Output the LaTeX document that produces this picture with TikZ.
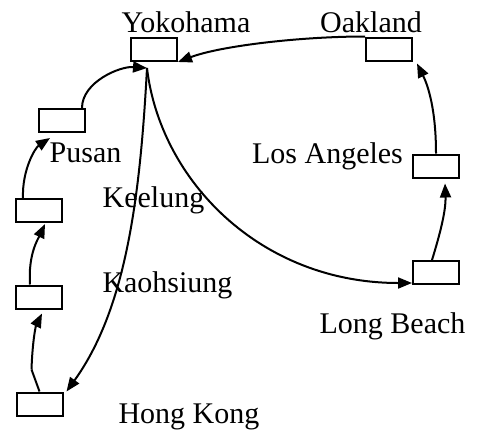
\documentclass[tikz,border=0pt]{standalone}
\usepackage{fontspec}
\setmainfont{Liberation Serif}
\usetikzlibrary{arrows.meta,calc}
\begin{document}
\begin{tikzpicture}[x=1pt,y=-1pt,
  port/.style={draw,line width=2pt,minimum width=46pt,minimum height=23pt,inner sep=0pt},
  lab/.style={anchor=base,inner sep=0pt,font=\fontsize{30}{36}\selectfont},
  route/.style={line width=2pt,-{Triangle[length=14pt,width=11pt]}},
  plain/.style={line width=2pt}]
\useasboundingbox (0,0) rectangle (478,431);
% boxes
\node[port] (yok) at (154,49.5) {};
\node[port] (oak) at (389,49) {};
\node[port] (la) at (436,166) {};
\node[port] (lb) at (436,272.5) {};
\node[port] (pus) at (62,120.5) {};
\node[port] (b3) at (39,210.5) {};
\node[port] (b4) at (39,297) {};
\node[port] (hk) at (39.5,404) {};
% labels
\node[lab] (tyok) at (186,32) {Yokohama};
\node[lab] (toak) at (371,32) {Oakland};
\node[lab] (tpus) at (85.5,162) {Pusan};
\node[lab] (tkee) at (153.5,207) {Keelung};
\node[lab] (tla) at (327.5,163) {Los Angeles};
\node[lab] (tkao) at (167.5,292) {Kaohsiung};
\node[lab] (tlb) at (392.5,333) {Long Beach};
\node[lab] (thk) at (189,423) {Hong Kong};
% helper points
\coordinate (hub) at ($(yok.south)+(-7,6)$);
\coordinate (kink) at ($(hk.north)+(-8,-22)$);
% connectors
\draw[route] (oak.north west) .. controls ($(oak.north west)+(-65,0)$) and ($(yok.south east)+(42,-16)$) .. (yok.south east);
\draw[route] ($(pus.north east)+(-4,0)$) .. controls ($(pus.north east)+(-4,-26)$) and ($(hub)+(-27,-2)$) .. (hub);
\draw[route] ($(b3.north west)+(8,0)$) .. controls ($(b3.north west)+(7,-28)$) and ($(pus.south west)+(-3,15)$) .. ($(pus.south west)+(12,5)$);
\draw[route] ($(b4.north west)+(15,0)$) .. controls ($(b4.north west)+(13,-30)$) and ($(b3.south west)+(23,16)$) .. ($(b3.south west)+(30,1)$);
\draw[plain] (hk.north) -- (kink);
\draw[route] (kink) .. controls ($(kink)+(1,-30)$) and ($(b4.south)+(-3,16)$) .. ($(b4.south)+(3,4)$);
\draw[route] (hub) .. controls ($(hub)+(-7,132)$) and ($(hk.north east)+(62,-82)$) .. ($(hk.north east)+(3,0)$);
\draw[route] (hub) .. controls ($(hub)+(13,112)$) and ($(lb.south west)+(-152,-2)$) .. ($(lb.south west)+(0,-2)$);
\draw[route] ($(lb.north west)+(20,0)$) .. controls ($(lb.north west)+(28,-26)$) and ($(la.south)+(10,32)$) .. ($(la.south)+(9,5)$);
\draw[route] (la.north) .. controls ($(la.north)+(0,-44)$) and ($(oak.south east)+(15,24)$) .. ($(oak.south east)+(4,2)$);
\end{tikzpicture}
\end{document}
